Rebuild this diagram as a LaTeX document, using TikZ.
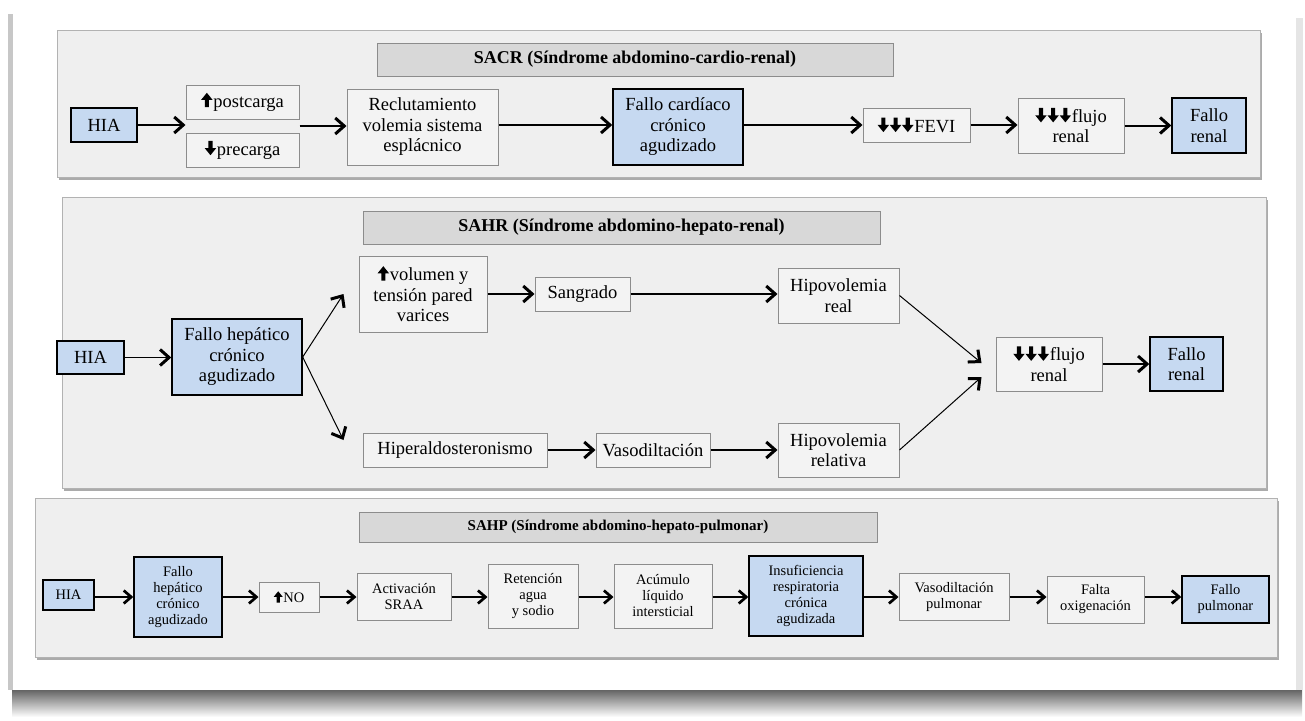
\documentclass[tikz,border=0pt]{standalone}
\usepackage{fontspec}
\setmainfont{Liberation Serif}
\usetikzlibrary{arrows.meta,shadows,calc}
\definecolor{blueF}{HTML}{C6D9F1}
\definecolor{panelF}{HTML}{EFEFEF}
\definecolor{titleF}{HTML}{D8D8D8}
\definecolor{boxF}{HTML}{F3F3F3}
\newcommand{\UPa}{\tikz[baseline=0pt,x=0.062em,y=0.064em]\fill[line join=round] (3.2,0) -- (6.8,0) -- (6.8,6.2) -- (10,6.2) -- (5,12.2) -- (0,6.2) -- (3.2,6.2) -- cycle;\hspace{0.04em}}
\newcommand{\DNa}{\tikz[baseline=0pt,x=0.062em,y=0.064em]\fill[line join=round] (3.2,12.2) -- (6.8,12.2) -- (6.8,6) -- (10,6) -- (5,0) -- (0,6) -- (3.2,6) -- cycle;\hspace{0.04em}}
\newcommand{\mkbox}[6]{\node[#1, minimum width=#4pt, minimum height=#5pt] (#2) at (#3) {#6};}
\tikzset{
  panel/.style={draw=black!30, fill=panelF, line width=0.8pt,
     drop shadow={shadow xshift=1.5pt, shadow yshift=-2.5pt, fill=black!60, opacity=.55}},
  ttl/.style={draw=black!45, fill=titleF, line width=0.9pt, inner sep=1pt},
  gbox/.style={draw=black!45, fill=boxF, line width=1pt, align=center, inner sep=1pt},
  bbox/.style={draw=black, fill=blueF, line width=1.4pt, align=center, inner sep=1pt},
  fA/.style={font=\fontsize{18.5}{20.5}\selectfont},
  fB/.style={font=\fontsize{14.5}{16}\selectfont},
  tA/.style={font=\fontsize{18}{20}\selectfont\bfseries},
  tB/.style={font=\fontsize{15}{17}\selectfont\bfseries},
  arr/.style={line width=2pt, -{Straight Barb[length=9pt,width=16pt,line width=3pt]}},
  arrthin/.style={line width=1pt, -{Straight Barb[length=9pt,width=16pt,line width=3pt]}},
  arrs/.style={line width=1.6pt, -{Straight Barb[length=7.5pt,width=13pt,line width=2.7pt]}},
}
\begin{document}
\begin{tikzpicture}[x=1pt,y=-1pt]
\useasboundingbox (0,0) rectangle (1305,720);
\fill[white] (0,0) rectangle (1305,720);
% outer card
\shade[top color=black!65, bottom color=white] (12,688) rectangle (1302,717);
\fill[black!22] (8,14) rectangle (13,690);
\fill[black!10] (1296,18) rectangle (1303,690);
\fill[white] (13,8) rectangle (1296,690);

% ---------- Panel 1 ----------
\fill[panel] (57,30) rectangle (1260,177);
\mkbox{ttl,tA}{t1}{635,59.5}{516}{33}{SACR (Síndrome abdomino-cardio-renal)}
\mkbox{bbox,fA}{hia1}{104,125}{66}{34}{HIA}
\mkbox{gbox,fA}{post}{242.5,102}{113}{34}{\UPa postcarga}
\mkbox{gbox,fA}{pre}{242.5,150}{113}{34}{\DNa precarga}
\mkbox{gbox,fA}{recl}{422.5,127}{151}{76}{Reclutamiento\\volemia sistema\\esplácnico}
\mkbox{bbox,fA}{fcard}{678,127}{130}{76}{Fallo cardíaco\\crónico\\agudizado}
\mkbox{gbox,fA}{fevi}{916.5,125}{107}{34}{\DNa\DNa\DNa FEVI}
\mkbox{gbox,fA}{flujo1}{1071,125.5}{106}{55}{\DNa\DNa\DNa flujo\\renal}
\mkbox{bbox,fA}{fren1}{1209,125.5}{74}{55}{Fallo\\renal}
\coordinate (pin) at ($(post.south west)!0.5!(pre.north west)$);
\coordinate (pout) at ($(post.south east)!0.5!(pre.north east)$);
\draw[arr] (hia1.east) -- (hia1.east -| pin);
\draw[arr] (pout) -- (pout -| recl.west);
\draw[arr] (recl.east |- hia1) -- (hia1 -| fcard.west);
\draw[arr] (fcard.east |- hia1) -- (hia1 -| fevi.west);
\draw[arr] (fevi.east) -- (fevi.east -| flujo1.west);
\draw[arr] (flujo1.east) -- (flujo1.east -| fren1.west);

% ---------- Panel 2 ----------
\fill[panel] (62,197) rectangle (1266,488);
\mkbox{ttl,tA}{t2}{621.5,227.5}{517}{33}{SAHR (Síndrome abdomino-hepato-renal)}
\mkbox{bbox,fA}{hia2}{90.5,357.5}{67}{33}{HIA}
\mkbox{bbox,fA}{fh2}{237,357}{130}{76}{Fallo hepático\\crónico\\agudizado}
\mkbox{gbox,fA}{vol}{423,294}{128}{76}{\UPa volumen y\\tensión pared\\varices}
\mkbox{gbox,fA}{sang}{582.5,294}{95}{34}{Sangrado}
\mkbox{gbox,fA}{hreal}{838.5,295.5}{121}{55}{Hipovolemia\\real}
\mkbox{gbox,fA}{hiper}{455,450}{184}{34}{Hiperaldosteronismo}
\mkbox{gbox,fA}{vaso}{653,450}{114}{34}{Vasodiltación}
\mkbox{gbox,fA}{hrel}{838.5,450}{121}{54}{Hipovolemia\\relativa}
\mkbox{gbox,fA}{flujo2}{1049,364}{106}{54}{\DNa\DNa\DNa flujo\\renal}
\mkbox{bbox,fA}{fren2}{1186.5,364}{73}{54}{Fallo\\renal}
\draw[arr, line width=1.6pt] (hia2.east) -- (hia2.east -| fh2.west);
\draw[arrthin] (fh2.east) -- ([xshift=-15pt]vol.west);
\draw[arrthin] (fh2.east) -- ([xshift=-19pt,yshift=10pt]hiper.west);
\draw[arr] (vol.east |- sang) -- (sang.west);
\draw[arr] (sang.east) -- (sang.east -| hreal.west);
\draw[arr] (hiper.east) -- (vaso.west);
\draw[arr] (vaso.east) -- (vaso.east -| hrel.west);
\draw[arrthin] (hreal.east) -- ([xshift=-14pt,yshift=1pt]flujo2.west);
\draw[arrthin] (hrel.east) -- ([xshift=-14pt,yshift=-13pt]flujo2.west);
\draw[arr] (flujo2.east) -- (fren2.west);

% ---------- Panel 3 ----------
\fill[panel] (35,498) rectangle (1277,657);
\mkbox{ttl,tB}{t3}{618,527}{518}{30}{SAHP (Síndrome abdomino-hepato-pulmonar)}
\mkbox{bbox,fB}{hia3}{68.5,595}{51}{30}{HIA}
\mkbox{bbox,fB}{fh3}{178,597}{88}{80}{Fallo\\hepático\\crónico\\agudizado}
\mkbox{gbox,fB}{no}{289,597}{60}{30}{\UPa NO}
\mkbox{gbox,fB}{sraa}{404,596.5}{94}{47}{Activación\\SRAA}
\mkbox{gbox,fB}{ret}{533,596}{90}{64}{Retención\\agua\\y sodio}
\mkbox{gbox,fB}{acu}{663,596}{98}{64}{Acúmulo\\líquido\\intersticial}
\mkbox{bbox,fB}{insuf}{806,596}{114}{80}{Insuficiencia\\respiratoria\\crónica\\agudizada}
\mkbox{gbox,fB}{vasop}{954,596.5}{110}{47}{Vasodiltación\\pulmonar}
\mkbox{gbox,fB}{falta}{1095.5,599.5}{97}{47}{Falta\\oxigenación}
\mkbox{bbox,fB}{fpulm}{1225.5,599.5}{87}{47}{Fallo\\pulmonar}
\coordinate (r3) at (0,597);
\draw[arrs] (hia3.east |- r3) -- (fh3.west |- r3);
\draw[arrs] (fh3.east |- r3) -- (no.west |- r3);
\draw[arrs] (no.east |- r3) -- (sraa.west |- r3);
\draw[arrs] (sraa.east |- r3) -- (ret.west |- r3);
\draw[arrs] (ret.east |- r3) -- (acu.west |- r3);
\draw[arrs] (acu.east |- r3) -- (insuf.west |- r3);
\draw[arrs] (insuf.east |- r3) -- (vasop.west |- r3);
\draw[arrs] (vasop.east |- r3) -- (falta.west |- r3);
\draw[arrs] (falta.east |- r3) -- (fpulm.west |- r3);
\end{tikzpicture}
\end{document}
